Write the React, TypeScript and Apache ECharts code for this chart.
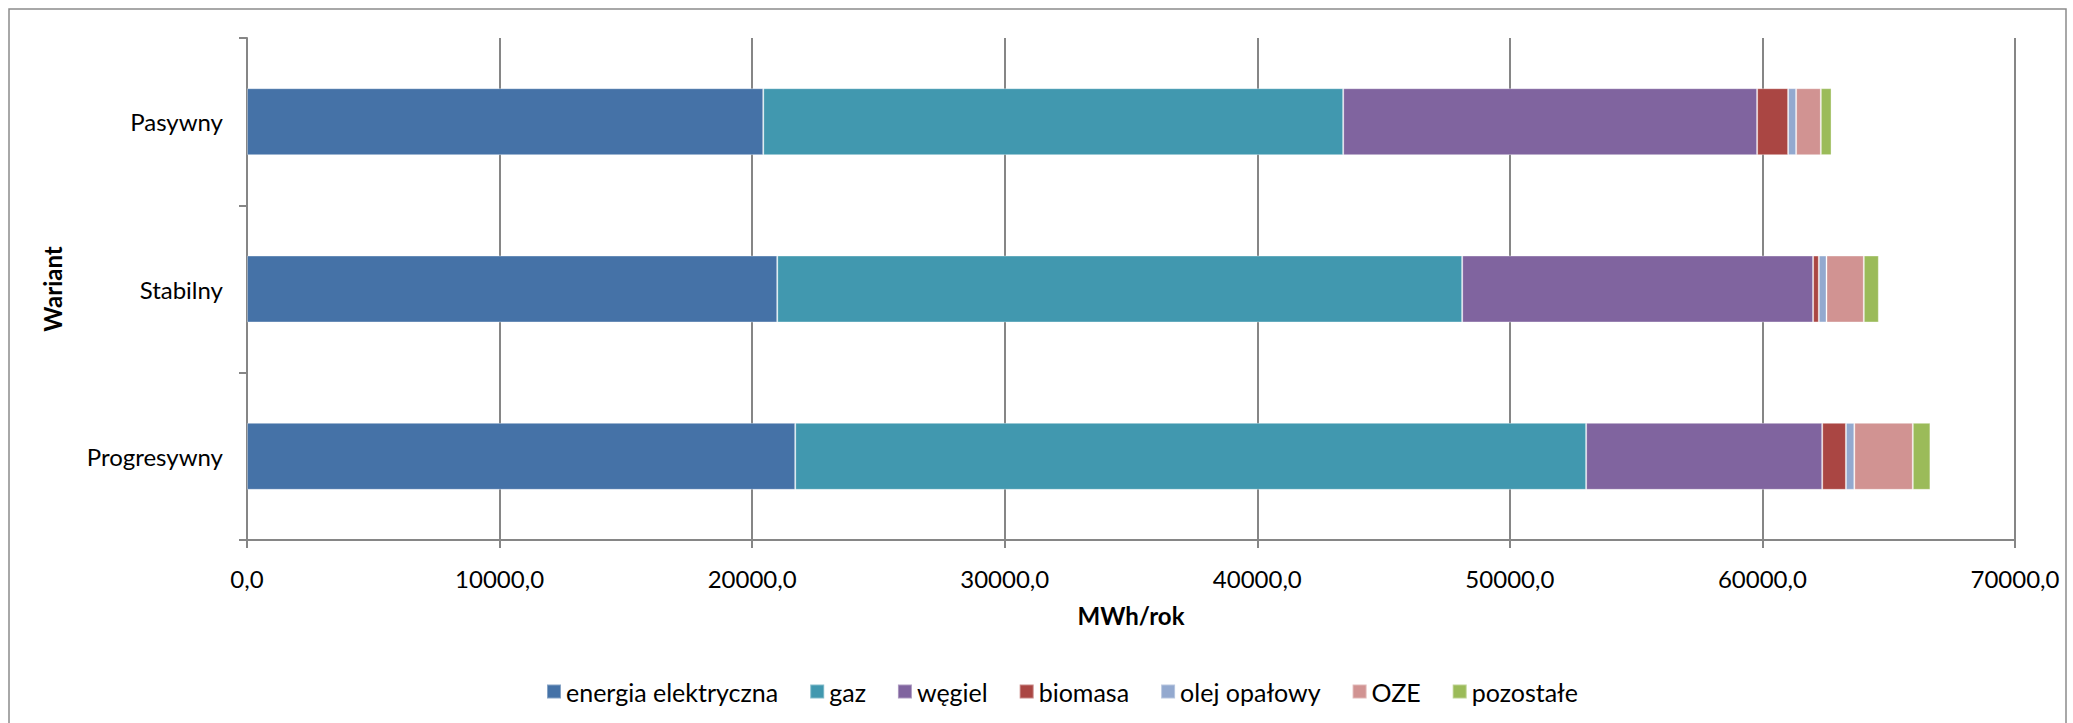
import React, { useEffect, useRef } from "react";
import * as echarts from "echarts";

const categories = ["Pasywny", "Stabilny", "Progresywny"];
const seriesNames = ["energia elektryczna", "gaz", "węgiel", "biomasa", "olej opałowy", "OZE", "pozostałe"];
// values per series, in category order [Pasywny, Stabilny, Progresywny]
const energiaElektryczna = [20440, 20994, 21706];
const gaz = [22961, 27118, 31314];
const wegiel = [16389, 13894, 9347];
const biomasa = [1227, 227, 939];
const olejOpalowy = [317, 304, 332];
const oze = [978, 1477, 2316];
const pozostale = [424, 594, 696];
const xTicks = [0, 10000, 20000, 30000, 40000, 50000, 60000, 70000];
const colors = ["#4572A7", "#4198AF", "#80649F", "#AA4643", "#93A9CF", "#D19392", "#9BBB59"];

const FONT = "Lato, 'Open Sans', sans-serif";

export default function App() {
  const ref = useRef<HTMLDivElement>(null);
  useEffect(() => {
    document.body.style.margin = "0";
    const chart = echarts.init(ref.current!, undefined, { renderer: "svg" });
    const values = [energiaElektryczna, gaz, wegiel, biomasa, olejOpalowy, oze, pozostale];
    chart.setOption({
      animation: false,
      backgroundColor: "#ffffff",
      textStyle: { fontFamily: FONT },
      graphic: [
        {
          type: "rect",
          shape: { x: 9, y: 9, width: 2057, height: 800 },
          style: { fill: "none", stroke: "#8c8c8c", lineWidth: 1.5 },
          silent: true,
        },
      ],
      grid: { left: 247, right: 58, top: 38, bottom: 183, containLabel: false },
      legend: {
        data: seriesNames,
        left: 541,
        top: 674,
        itemWidth: 14,
        itemHeight: 14,
        itemGap: 31,
        icon: "rect",
        textStyle: { fontSize: 25, color: "#000", fontFamily: FONT },
      },
      xAxis: {
        type: "value",
        min: xTicks[0],
        max: xTicks[xTicks.length - 1],
        interval: 10000,
        name: "MWh/rok",
        nameLocation: "middle",
        nameGap: 63,
        nameTextStyle: { fontSize: 24, fontWeight: "bold", color: "#000", fontFamily: FONT },
        axisLine: { show: true, lineStyle: { color: "#868686", width: 2 } },
        axisTick: { show: true, length: 8, lineStyle: { color: "#868686", width: 2 } },
        axisLabel: {
          fontSize: 24,
          color: "#000",
          margin: 26,
          fontFamily: FONT,
          formatter: (v: number) => v.toFixed(1).replace(".", ","),
        },
        splitLine: { show: true, lineStyle: { color: "#868686", width: 2 } },
      },
      yAxis: {
        type: "category",
        data: categories,
        inverse: true,
        name: "Wariant",
        nameLocation: "middle",
        nameGap: 183,
        nameRotate: 90,
        nameTextStyle: { fontSize: 24, fontWeight: "bold", color: "#000", fontFamily: FONT },
        axisLine: { show: true, lineStyle: { color: "#868686", width: 2 } },
        axisTick: { show: true, length: 8, alignWithLabel: false, lineStyle: { color: "#868686", width: 2 } },
        axisLabel: { fontSize: 24, color: "#000", margin: 24, fontFamily: FONT },
        splitLine: { show: false },
      },
      series: seriesNames.map((name, i) => ({
        name,
        type: "bar",
        stack: "total",
        barWidth: "40%",
        data: values[i],
        itemStyle: { color: colors[i], borderColor: "rgba(255,255,255,0.35)", borderWidth: 1 },
      })),
    });
    return () => chart.dispose();
  }, []);
  return <div ref={ref} style={{ width: 2073, height: 723 }} />;
}
